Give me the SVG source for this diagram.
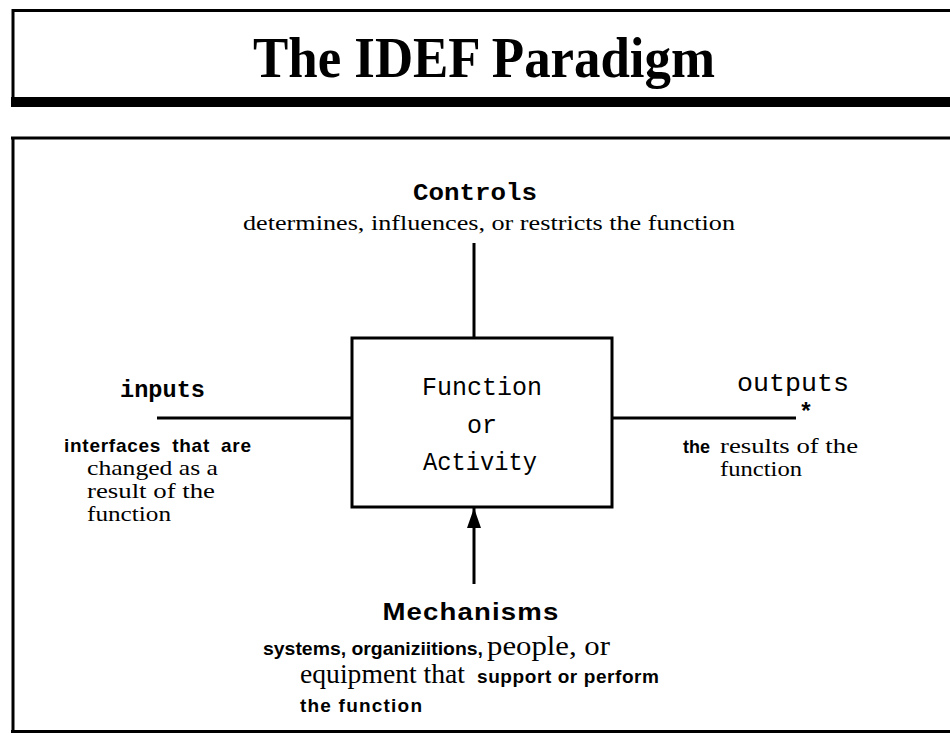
<svg xmlns="http://www.w3.org/2000/svg" width="950" height="733" viewBox="0 0 950 733">
<style>
.serif{font-family:"Liberation Serif","Times New Roman",serif;fill:#000}
.sansb{font-family:"Liberation Sans",Arial,sans-serif;font-weight:bold;fill:#000}
.mono{font-family:"Liberation Mono","Courier New",monospace;fill:#000}
.line{stroke:#000;stroke-width:3;fill:none}
</style>
<defs>
<marker id="arr" markerWidth="20" markerHeight="14" refX="20" refY="7" orient="auto" markerUnits="userSpaceOnUse" viewBox="0 0 20 14">
<path d="M0,0 L20,7 L0,14 Z" fill="#000"/>
</marker>
</defs>
<rect width="950" height="733" fill="#fff"/>
<g id="title">
<path d="M13,10.5 H950 M13,9 V102" stroke="#000" stroke-width="3" fill="none"/>
<rect x="11" y="97" width="939" height="10" fill="#000"/>
<text class="serif" x="484" y="77" font-size="56" font-weight="bold" text-anchor="middle" textLength="462" lengthAdjust="spacingAndGlyphs">The IDEF Paradigm</text>
</g>
<g id="frame">
<path d="M13,137 V733 M11,138 H950 M11,731.5 H950" stroke="#000" stroke-width="3" fill="none"/>
</g>
<g id="connectors">
<line class="line" x1="474" y1="243" x2="474" y2="338"/>
<line class="line" x1="157" y1="418" x2="352" y2="418"/>
<line class="line" x1="612" y1="418" x2="796" y2="418"/>
<line class="line" x1="474" y1="584" x2="474" y2="508" marker-end="url(#arr)"/>
</g>
<g id="function">
<rect x="352" y="338" width="260" height="169" fill="#fff" stroke="#000" stroke-width="3"/>
<text class="mono" x="482" y="395" font-size="25" text-anchor="middle" textLength="120" lengthAdjust="spacingAndGlyphs">Function</text>
<text class="mono" x="482" y="433" font-size="25" text-anchor="middle">or</text>
<text class="mono" x="480" y="470" font-size="25" text-anchor="middle" textLength="114" lengthAdjust="spacingAndGlyphs">Activity</text>
</g>
<g id="controls">
<text class="mono" x="475" y="200" font-size="23" font-weight="bold" text-anchor="middle" textLength="124" lengthAdjust="spacingAndGlyphs">Controls</text>
<text class="serif" x="489" y="230" font-size="22" text-anchor="middle" textLength="492" lengthAdjust="spacingAndGlyphs">determines, influences, or restricts the function</text>
</g>
<g id="inputs">
<text class="mono" x="120" y="397" font-size="23" font-weight="bold" textLength="85" lengthAdjust="spacingAndGlyphs">inputs</text>
<text class="sansb" x="64" y="452" font-size="19" word-spacing="5" textLength="187" lengthAdjust="spacing">interfaces that are</text>
<text class="serif" x="87" y="475" font-size="22" textLength="131" lengthAdjust="spacingAndGlyphs">changed as a</text>
<text class="serif" x="87" y="498" font-size="22" textLength="128" lengthAdjust="spacingAndGlyphs">result of the</text>
<text class="serif" x="87" y="521" font-size="22" textLength="84" lengthAdjust="spacingAndGlyphs">function</text>
</g>
<g id="outputs">
<text class="mono" x="737" y="391" font-size="26" textLength="112" lengthAdjust="spacingAndGlyphs">outputs</text>
<text class="mono" x="806" y="420" font-size="24" font-weight="bold" text-anchor="middle">*</text>
<text class="sansb" x="683" y="453" font-size="18">the</text>
<text class="serif" x="720" y="453" font-size="22" textLength="138" lengthAdjust="spacingAndGlyphs">results of the</text>
<text class="serif" x="720" y="476" font-size="22" textLength="82" lengthAdjust="spacingAndGlyphs">function</text>
</g>
<g id="mechanisms">
<text class="sansb" x="471" y="620" font-size="24" text-anchor="middle" letter-spacing="1" textLength="177" lengthAdjust="spacingAndGlyphs">Mechanisms</text>
<text class="sansb" x="263" y="655" font-size="19" textLength="220" lengthAdjust="spacingAndGlyphs">systems, organiziitions,</text>
<text class="serif" x="487" y="655" font-size="27" textLength="123" lengthAdjust="spacingAndGlyphs">people, or</text>
<text class="serif" x="300" y="683" font-size="27" textLength="165" lengthAdjust="spacingAndGlyphs">equipment that</text>
<text class="sansb" x="477" y="683" font-size="19" textLength="182" lengthAdjust="spacing">support or perform</text>
<text class="sansb" x="300" y="712" font-size="19" textLength="122" lengthAdjust="spacing">the function</text>
</g>
</svg>
